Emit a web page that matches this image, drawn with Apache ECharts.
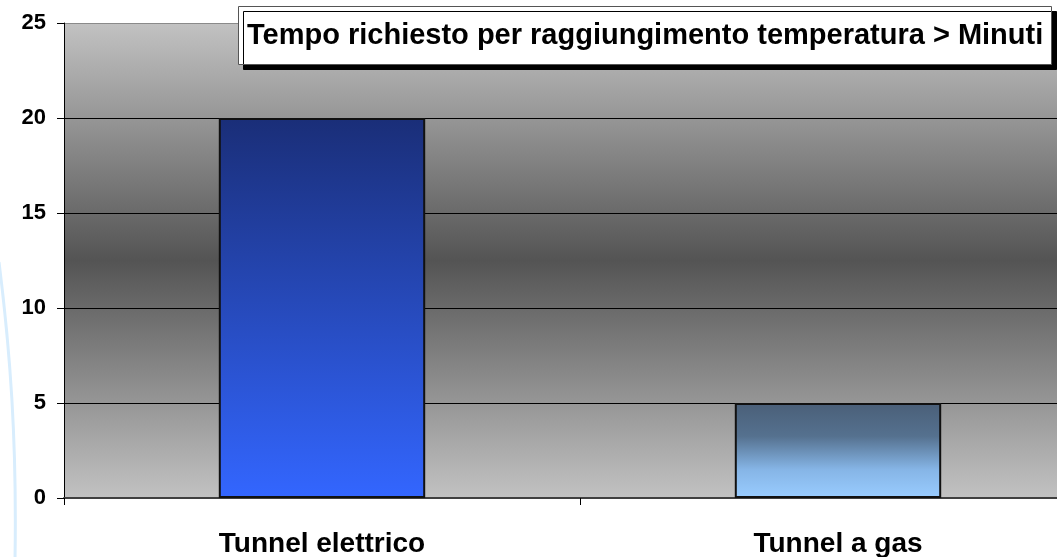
<!DOCTYPE html>
<html>
<head>
<meta charset="utf-8">
<script src="https://cdn.jsdelivr.net/npm/echarts@6/dist/echarts.min.js"></script>
<style>
  html, body { margin: 0; padding: 0; background: #ffffff; }
  #chart { width: 1057px; height: 557px; }
</style>
</head>
<body>
<div id="chart"></div>
<script>
// Heating time comparison (minutes)
const titleText = 'Tempo richiesto per raggiungimento temperatura > Minuti';
const categories = ['Tunnel elettrico', 'Tunnel a gas'];
const minutes = [20, 5];
const yMin = 0, yMax = 25, yStep = 5;

const FONT = '"Liberation Sans", Arial, sans-serif';

// Vertical gradient fill for each bar
const barFills = [
  { type: 'linear', x: 0, y: 0, x2: 0, y2: 1, colorStops: [
    { offset: 0, color: '#1a2e78' },
    { offset: 1, color: '#3366ff' }
  ]},
  { type: 'linear', x: 0, y: 0, x2: 0, y2: 1, colorStops: [
    { offset: 0, color: '#4a5f78' },
    { offset: 0.35, color: '#55718f' },
    { offset: 0.7, color: '#86b5e6' },
    { offset: 1, color: '#99ccff' }
  ]}
];

const chart = echarts.init(document.getElementById('chart'), null, { renderer: 'canvas' });

chart.setOption({
  animation: false,
  backgroundColor: '#ffffff',
  title: {
    text: titleText,
    left: 238,
    top: 6,
    padding: [15, 8, 15, 9],
    backgroundColor: '#ffffff',
    borderColor: '#555555',
    borderWidth: 1,
    shadowColor: '#000000',
    shadowBlur: 0,
    shadowOffsetX: 5,
    shadowOffsetY: 5,
    textStyle: { fontFamily: FONT, fontWeight: 'bold', fontSize: 29, color: '#000000' }
  },
  graphic: [{
    type: 'bezierCurve',
    z: -1,
    shape: { x1: -1, y1: 262, cpx1: 10, cpy1: 350, cpx2: 17, cpy2: 440, x2: 15, y2: 560 },
    style: { stroke: '#d8edfd', lineWidth: 3, fill: null }
  }],
  // plot area runs past the right edge of the canvas
  grid: {
    left: 64,
    top: 23,
    width: 1032,
    height: 475,
    outerBoundsMode: 'none',
    containLabel: false,
    show: true,
    borderWidth: 0,
    backgroundColor: { type: 'linear', x: 0, y: 0, x2: 0, y2: 1, colorStops: [
      { offset: 0, color: '#c2c2c2' },
      { offset: 0.5, color: '#545454' },
      { offset: 1, color: '#c2c2c2' }
    ]}
  },
  xAxis: {
    type: 'category',
    data: categories,
    boundaryGap: true,
    axisLine: { show: true, lineStyle: { color: '#404040', width: 2 } },
    axisTick: { show: true, inside: false, length: 7, alignWithLabel: false, lineStyle: { color: '#000000', width: 1 } },
    axisLabel: { margin: 32, fontFamily: FONT, fontWeight: 'bold', fontSize: 28, color: '#000000' },
    splitLine: { show: false }
  },
  yAxis: {
    type: 'value',
    min: yMin,
    max: yMax,
    interval: yStep,
    axisLine: { show: true, lineStyle: { color: '#000000', width: 1 } },
    axisTick: { show: true, inside: false, length: 7, lineStyle: { color: '#000000', width: 1 } },
    axisLabel: { margin: 18, fontFamily: FONT, fontWeight: 'bold', fontSize: 22, color: '#000000' },
    splitLine: { show: true, lineStyle: { color: ['#000000', '#000000', '#000000', '#000000', '#000000', '#8a8a8a'], width: 1 } }
  },
  series: [{
    type: 'bar',
    barWidth: '40%',
    data: minutes.map((v, i) => ({
      value: v,
      itemStyle: { color: barFills[i], borderColor: '#111111', borderWidth: 2 }
    }))
  }]
});
</script>
</body>
</html>
